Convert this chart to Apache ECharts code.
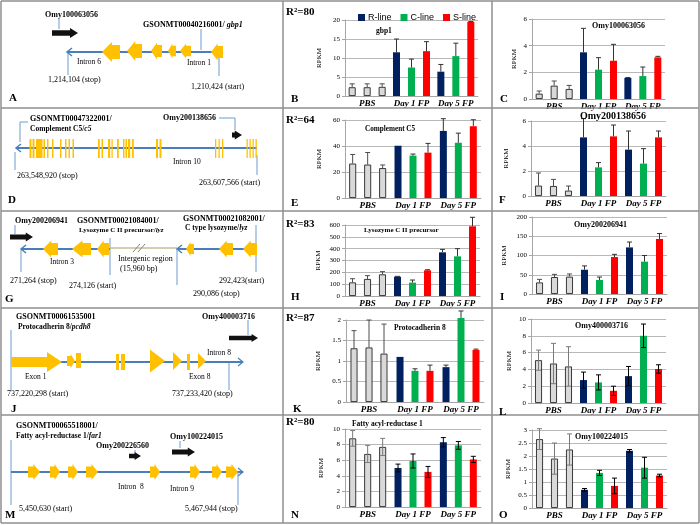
<!DOCTYPE html>
<html><head><meta charset="utf-8">
<script src="https://cdn.jsdelivr.net/npm/echarts@6/dist/echarts.min.js"></script>
<style>html,body{margin:0;padding:0;background:#fff}#c{width:700px;height:525px}</style>
</head><body><div id="c"></div>
<script>
// ---------------- DATA ----------------
const categories = ['PBS', 'Day 1 FP', 'Day 5 FP'];
const lineNames = ['R-line', 'C-line', 'S-line'];
// value order: PBS a, PBS b, PBS c, Day1 R, Day1 C, Day1 S, Day5 R, Day5 C, Day5 S
const gbp1Mean = [2.3, 2.3, 2.4, 11.5, 7.5, 11.8, 6.4, 10.5, 19.5];
const gbp1Err = [0.9, 0.9, 0.8, 3.5, 2.2, 2.5, 1.9, 3.4, 0.1];
const gbp1Ticks = [0, 5, 10, 15, 20];
const omy100063056Mean = [0.4, 1.0, 0.75, 3.5, 2.2, 2.87, 1.58, 1.72, 3.12];
const omy100063056Err = [0.2, 0.35, 0.27, 1.8, 0.9, 1.23, 0.03, 0.68, 0.08];
const omy100063056Ticks = [0, 2, 4, 6];
const c5Mean = [26.5, 25.7, 23.0, 40.2, 32.6, 34.9, 51.6, 42.5, 55.2];
const c5Err = [7.0, 9.3, 2.4, 0, 1.2, 7.1, 9.4, 7.4, 5.0];
const c5Ticks = [0, 20, 40, 60];
const omy200138656Mean = [0.83, 0.8, 0.43, 4.69, 2.29, 4.77, 3.71, 2.59, 4.69];
const omy200138656Err = [1.01, 0.53, 0.37, 1.5, 0.38, 0.91, 1.49, 1.2, 0.51];
const omy200138656Ticks = [0, 2, 4, 6];
const lyzMean = [115, 144, 183, 163, 113, 217, 369, 335, 589];
const lyzErr = [31, 28, 23, 3, 22, 5, 25, 65, 76];
const lyzTicks = [0, 100, 200, 300, 400, 500, 600];
const omy200206941Mean = [30, 44, 45, 63, 36.5, 96, 121, 84, 143];
const omy200206941Err = [8, 7, 7, 10, 7.5, 7, 14, 16, 14];
const omy200206941Ticks = [0, 50, 100, 150, 200];
const pcdh8Mean = [1.31, 1.33, 1.18, 1.10, 0.76, 0.76, 0.85, 2.05, 1.27];
const pcdh8Err = [0.43, 0.67, 0.72, 0, 0.05, 0.14, 0.05, 0.17, 0.02];
const pcdh8Ticks = [0, 0.5, 1, 1.5, 2];
const omy400003716Mean = [5.1, 4.7, 4.35, 2.73, 2.45, 1.45, 3.2, 8.0, 4.05];
const omy400003716Err = [1.2, 2.4, 2.35, 0.95, 0.9, 0.55, 1.15, 1.4, 0.5];
const omy400003716Ticks = [0, 2, 4, 6, 8, 10];
const far1Mean = [8.8, 6.8, 7.7, 5.0, 5.9, 4.5, 8.3, 7.9, 6.1];
const far1Err = [1.0, 1.1, 1.1, 0.5, 0.9, 0.7, 0.6, 0.5, 0.4];
const far1Ticks = [0, 2, 4, 6, 8, 10];
const omy100224015Mean = [2.65, 1.9, 2.25, 0.7, 1.35, 0.85, 2.2, 1.55, 1.25];
const omy100224015Err = [0.4, 0.6, 0.6, 0.05, 0.1, 0.3, 0.05, 0.4, 0.05];
const omy100224015Ticks = [0, 0.5, 1, 1.5, 2, 2.5, 3];

// ---------------- STYLE ----------------
const SERIF = '"Liberation Serif", "Times New Roman", serif';
const SANS = '"Liberation Sans", Arial, sans-serif';
const lineColors = ['#002060', '#00B050', '#FF0000'];
const PBS_FILL = '#D9D9D9';
const BLUE = '#4A7EBB';
const THIN = '#6C9BD2';
const YEL = '#FFC000';

const panels = [
  {mean: gbp1Mean, err: gbp1Err, ticks: gbp1Ticks, two: false, box: [345, 20, 133, 76], gap: 22},
  {mean: omy100063056Mean, err: omy100063056Err, ticks: omy100063056Ticks, two: false, box: [532, 19, 133, 80], gap: 14},
  {mean: c5Mean, err: c5Err, ticks: c5Ticks, two: false, box: [345, 120, 136, 78], gap: 22},
  {mean: omy200138656Mean, err: omy200138656Err, ticks: omy200138656Ticks, two: false, box: [531, 121, 135, 75], gap: 21},
  {mean: lyzMean, err: lyzErr, ticks: lyzTicks, two: false, box: [345, 225, 135, 71], gap: 23},
  {mean: omy200206941Mean, err: omy200206941Err, ticks: omy200206941Ticks, two: false, box: [532, 217, 135, 77], gap: 24},
  {mean: pcdh8Mean, err: pcdh8Err, ticks: pcdh8Ticks, two: false, box: [346, 320, 138, 82], gap: 24},
  {mean: omy400003716Mean, err: omy400003716Err, ticks: omy400003716Ticks, two: true, box: [531, 319, 135, 84], gap: 18},
  {mean: far1Mean, err: far1Err, ticks: far1Ticks, two: true, box: [345, 429, 136, 78], gap: 20},
  {mean: omy100224015Mean, err: omy100224015Err, ticks: omy100224015Ticks, two: true, box: [532, 430, 135, 78], gap: 20}
];

const BAR_STEP = 15;
function errRenderer(two) {
  return function (params, api) {
    const cat = api.value(0), k = api.value(1), m = api.value(2), e = api.value(3);
    if (!e) return null;
    const top = api.coord([cat, m + e]);
    const bot = api.coord([cat, two ? m - e : m]);
    const x = top[0] + (k - 1) * BAR_STEP;
    const col = (cat === 0) ? (two ? '#7a7a7a' : '#4d4d4d') : (two ? '#000' : '#333');
    const ch = [
      {type: 'line', shape: {x1: x, y1: top[1], x2: x, y2: bot[1]}, style: {stroke: col, lineWidth: 1}},
      {type: 'line', shape: {x1: x - 2.5, y1: top[1], x2: x + 2.5, y2: top[1]}, style: {stroke: col, lineWidth: 1}}
    ];
    if (two) ch.push({type: 'line', shape: {x1: x - 2.5, y1: bot[1], x2: x + 2.5, y2: bot[1]}, style: {stroke: col, lineWidth: 1}});
    return {type: 'group', children: ch};
  };
}

const grid = [], xAxis = [], yAxis = [], series = [];
panels.forEach((p, i) => {
  grid.push({left: p.box[0], top: p.box[1], width: p.box[2], height: p.box[3]});
  xAxis.push({type: 'category', gridIndex: i, data: categories,
    axisLine: {lineStyle: {color: '#a6a6a6'}}, axisTick: {show: false},
    axisLabel: {interval: 0, margin: 3, color: '#000', fontFamily: SERIF, fontSize: 9, fontWeight: 'bold', fontStyle: 'italic'}});
  yAxis.push({type: 'value', gridIndex: i, min: p.ticks[0], max: p.ticks[p.ticks.length - 1], interval: p.ticks[1] - p.ticks[0],
    axisLine: {show: true, lineStyle: {color: '#a6a6a6'}},
    axisTick: {show: true, length: 3, lineStyle: {color: '#a6a6a6'}},
    splitLine: {lineStyle: {color: '#b8b8b8'}},
    axisLabel: {margin: 5, color: '#000', fontFamily: SERIF, fontSize: 7},
    name: 'RPKM', nameLocation: 'middle', nameGap: p.gap,
    nameTextStyle: {color: '#000', fontFamily: SERIF, fontSize: 7}});
  for (let k = 0; k < 3; k++) {
    series.push({type: 'bar', name: lineNames[k], xAxisIndex: i, yAxisIndex: i,
      barWidth: 7, barGap: '114%', clip: false, z: 2,
      itemStyle: {color: lineColors[k]},
      data: [
        {value: p.mean[k], itemStyle: {color: PBS_FILL, borderColor: '#262626', borderWidth: 0.9}},
        p.mean[3 + k], p.mean[6 + k]
      ]});
  }
  const ed = [];
  for (let c = 0; c < 3; c++) for (let k = 0; k < 3; k++) ed.push([c, k, p.mean[c * 3 + k], p.err[c * 3 + k]]);
  series.push({type: 'custom', xAxisIndex: i, yAxisIndex: i, z: 5, silent: true, clip: false,
    encode: {x: 0, y: 2}, renderItem: errRenderer(p.two), data: ed});
});

// ---------------- GRAPHICS (diagrams, labels, frame) ----------------
const G = [];
function T(x, y, s, o) { G.push({type: 'text', x: x, y: y, silent: true, z: 10,
  style: Object.assign({text: s, fill: '#000', fontFamily: SERIF, fontSize: 8, align: 'left', verticalAlign: 'middle'}, o || {})}); }
function TB(x, y, s, size) { T(x, y, s, {fontWeight: 'bold', fontSize: size || 8}); }
function TR(x, y, a, b, size) {
  const sz = size || 8;
  T(x, y, '{a|' + a + '}{b|' + b + '}', {rich: {
    a: {fontFamily: SERIF, fontSize: sz, fontWeight: 'bold', fill: '#000'},
    b: {fontFamily: SERIF, fontSize: sz, fontWeight: 'bold', fontStyle: 'italic', fill: '#000'}}});
}
function L(x1, y1, x2, y2, c, w) { G.push({type: 'line', silent: true, z: 5, shape: {x1, y1, x2, y2}, style: {stroke: c || THIN, lineWidth: w || 1}}); }
function PL(pts, c, w) { G.push({type: 'polyline', silent: true, z: 5, shape: {points: pts}, style: {stroke: c || THIN, lineWidth: w || 1, fill: null}}); }
function PG(pts, fill) { G.push({type: 'polygon', silent: true, z: 6, shape: {points: pts}, style: {fill: fill}}); }
function RC(x, y, w, h, fill) { G.push({type: 'rect', silent: true, z: 6, shape: {x, y, width: w, height: h}, style: {fill: fill}}); }
function exonL(x1, x2, yc, h) {
  const xh = x1 + Math.min((x2 - x1) * 0.55, h * 0.75), bh = h * 0.7;
  PG([[x1, yc], [xh, yc - h / 2], [xh, yc - bh / 2], [x2, yc - bh / 2], [x2, yc + bh / 2], [xh, yc + bh / 2], [xh, yc + h / 2]], YEL);
}
function exonR(x1, x2, yc, h, bodyFrac) {
  const xh = x2 - Math.min((x2 - x1) * 0.55, h * 0.75), bh = h * (bodyFrac || 0.7);
  PG([[x1, yc - bh / 2], [xh, yc - bh / 2], [xh, yc - h / 2], [x2, yc], [xh, yc + h / 2], [xh, yc + bh / 2], [x1, yc + bh / 2]], YEL);
}
function tri(x1, x2, yc, h) { PG([[x1, yc - h / 2], [x2, yc], [x1, yc + h / 2]], YEL); }
function blackR(x1, x2, yc, h) {
  const xh = x2 - h * 0.8, bh = h * 0.55;
  PG([[x1, yc - bh / 2], [xh, yc - bh / 2], [xh, yc - h / 2], [x2, yc], [xh, yc + h / 2], [xh, yc + bh / 2], [x1, yc + bh / 2]], '#111');
}
function gene(x1, x2, y, dir) {
  L(x1, y, x2, y, BLUE, 2.2);
  if (dir === 'L') PL([[x1 + 5, y - 4], [x1, y], [x1 + 5, y + 4]], BLUE, 1.5);
  else PL([[x2 - 5, y - 4], [x2, y], [x2 - 5, y + 4]], BLUE, 1.2);
}

// Frame
const FR = '#8f8f8f';
[1, 108, 211, 308, 415, 523].forEach(y => L(1, y, 699, y, FR, 1.5));
[1, 283, 492, 699].forEach(x => L(x, 1, x, 523, FR, 1.5));

// Panel A
TB(45, 15, 'Omy100063056');
L(59, 19, 59, 29);
blackR(52, 78, 33, 10);
gene(67, 223, 52, 'L');
exonL(102, 120, 52, 20); exonL(127, 142, 51, 20); exonL(151, 162, 51, 17);
exonL(168, 176, 51, 15); exonL(180, 191, 51, 15); exonL(211, 223, 52, 17);
TR(143, 25, 'GSONMT00040216001/ ', 'gbp1');
L(201, 29, 201, 50);
T(77, 62, 'Intron 6', {fontSize: 7.5});
T(187, 63, 'Intron 1', {fontSize: 7.5});
L(68, 53, 68, 75); T(48, 80, '1,214,104 (stop)');
L(219, 57, 219, 76); T(191, 87, '1,210,424 (start)');
TB(9, 98, 'A', 11);

// Panel D
TB(30, 119, 'GSONMT00047322001/');
TR(30, 129, 'Complement C5/', 'c5', 7.5);
PL([[28, 122], [20, 122], [20, 142]]);
gene(16, 257, 148, 'L');
[[29.5, 2], [32.5, 2], [36, 6.5], [43.5, 1.5], [47, 1.5], [52, 1.5], [60, 1.5], [65, 1.5], [68.5, 1.5], [72.5, 1.5],
 [98, 1.8], [101.5, 1.5], [108, 2.2], [111.5, 1.2], [117, 1.8], [123, 1.5], [125.5, 1.5], [128, 2.2], [132, 1.8],
 [156, 2], [159.5, 2], [215, 1.3], [218.5, 1.3], [222, 1.3], [246.5, 1.3], [249.5, 1.3], [252.5, 1.3], [255.5, 1.3]]
  .forEach(e => RC(e[0], 139, e[1], 19, YEL));
TB(163, 118, 'Omy200138656');
PL([[219, 118], [235, 118], [235, 130]]);
blackR(232, 242, 135, 9);
T(173, 162, 'Intron 10', {fontSize: 7.5});
L(15, 152, 15, 170); T(17, 176, '263,548,920 (stop)');
L(257, 155, 257, 175); T(199, 183, '263,607,566 (start)');
TB(8, 200, 'D', 11);

// Panel G
TB(15, 221, 'Omy200206941');
L(15, 225, 15, 234);
blackR(10, 33, 237, 9);
gene(21, 110, 249, 'L');
exonL(43, 58, 249, 17); exonL(72, 91, 249, 17); exonL(97, 109, 249, 17);
L(110, 238, 110, 275); T(69, 286, '274,126 (start)');
L(21, 250, 21, 272); T(10, 281, '271,264 (stop)');
T(50, 262, 'Intron 3', {fontSize: 7.5});
TB(77, 221, 'GSONMT00021084001/');
TR(79, 230, 'Lysozyme C II precursor/', 'lyz', 7);
L(110, 248, 177, 248, '#C4BD97', 1.5);
L(133, 252, 140, 244, '#8c8670', 1); L(138, 252, 145, 244, '#8c8670', 1);
T(118, 259, 'Intergenic region');
T(120, 269, '(15,960 bp)');
gene(177, 257, 249, 'L');
exonL(186, 194, 249, 14); exonL(219, 233, 249, 17); exonL(243, 257, 249, 17);
L(177, 249, 177, 285); T(193, 294, '290,086 (stop)');
L(256, 225, 256, 272); T(219, 281, '292,423(start)');
TB(183, 219, 'GSONMT00021082001/');
TR(185, 228, 'C type lysozyme/', 'lyz', 7.5);
TB(5, 299, 'G', 11);

// Panel J
TB(16, 317, 'GSONMT00061535001');
TR(18, 327, 'Protocadherin 8/', 'pcdh8', 7.5);
L(11, 330, 11, 390);
gene(11, 243, 362, 'R');
exonR(11, 62, 362, 20, 0.5);
exonR(67, 75, 361, 14); RC(76, 353, 5, 15, YEL);
RC(116, 354, 3, 16, YEL); RC(121, 354, 4, 16, YEL);
tri(150, 165, 361, 23); tri(173, 182, 361, 18); RC(187, 354, 3, 16, YEL); tri(198, 206, 361, 16);
TB(202, 317, 'Omy400003716');
L(248, 320, 248, 335);
blackR(229, 258, 338, 8);
T(207, 353, 'Intron 8', {fontSize: 7.5});
T(25, 377, 'Exon 1', {fontSize: 7.5});
T(189, 377, 'Exon 8', {fontSize: 7.5});
L(229, 363, 229, 390);
T(7, 394, '737,220,298 (start)');
T(172, 394, '737,233,420 (stop)');
TB(11, 409, 'J', 11);

// Panel M
TB(16, 426, 'GSONMT00065518001/');
TR(16, 436, 'Fatty acyl-reductase 1/', 'far1', 7.5);
L(11, 440, 11, 505);
gene(11, 243, 472, 'R');
[[28, 40], [50, 60], [68, 78], [86, 98], [150, 160], [190, 200], [212, 222], [226, 238]].forEach(e => exonR(e[0], e[1], 472, 16));
TB(96, 446, 'Omy200226560');
L(135, 450, 135, 453);
blackR(129, 141, 456, 8);
TB(170, 437, 'Omy100224015');
L(180, 441, 180, 448);
blackR(172, 195, 452, 9);
T(118, 487, 'Intron  8', {fontSize: 7.5});
T(170, 489, 'Intron 9', {fontSize: 7.5});
L(238, 472, 238, 505);
T(19, 509, '5,450,630 (start)');
T(185, 509, '5,467,944 (stop)');
TB(5, 515, 'M', 11);

// Chart panel texts
[[286, 12, '80'], [286, 120, '64'], [286, 224, '83'], [286, 318, '87'], [286, 422, '80']]
  .forEach(r => TB(r[0], r[1], 'R²=' + r[2], 11));
TB(376, 31, 'gbp1', 7.5);
TB(592, 26, 'Omy100063056', 8);
TB(365, 129, 'Complement C5', 7.2);
TB(580, 116, 'Omy200138656', 10);
TB(364, 230, 'Lysozyme C II precursor', 7);
TB(574, 225, 'Omy200206941', 8);
TB(394, 328, 'Protocadherin 8', 7.5);
TB(575, 326, 'Omy400003716', 8);
TB(352, 424, 'Fatty acyl-reductase 1', 7.5);
TB(575, 437, 'Omy100224015', 8);
[['B', 291, 99], ['C', 500, 99], ['E', 291, 203], ['F', 499, 200], ['H', 291, 297], ['I', 500, 297],
 ['K', 293, 409], ['L', 499, 412], ['N', 291, 515], ['O', 499, 515]].forEach(l => TB(l[1], l[2], l[0], 11));

const chart = echarts.init(document.getElementById('c'), null, {renderer: 'canvas'});
chart.setOption({
  animation: false,
  backgroundColor: '#fff',
  legend: {left: 353, top: 8, itemWidth: 7, itemHeight: 7, itemGap: 9, icon: 'rect', data: lineNames,
    textStyle: {fontFamily: SANS, fontSize: 9, color: '#000', padding: [0, 0, 0, -2]}},
  grid: grid, xAxis: xAxis, yAxis: yAxis, series: series,
  graphic: G
});
</script></body></html>
